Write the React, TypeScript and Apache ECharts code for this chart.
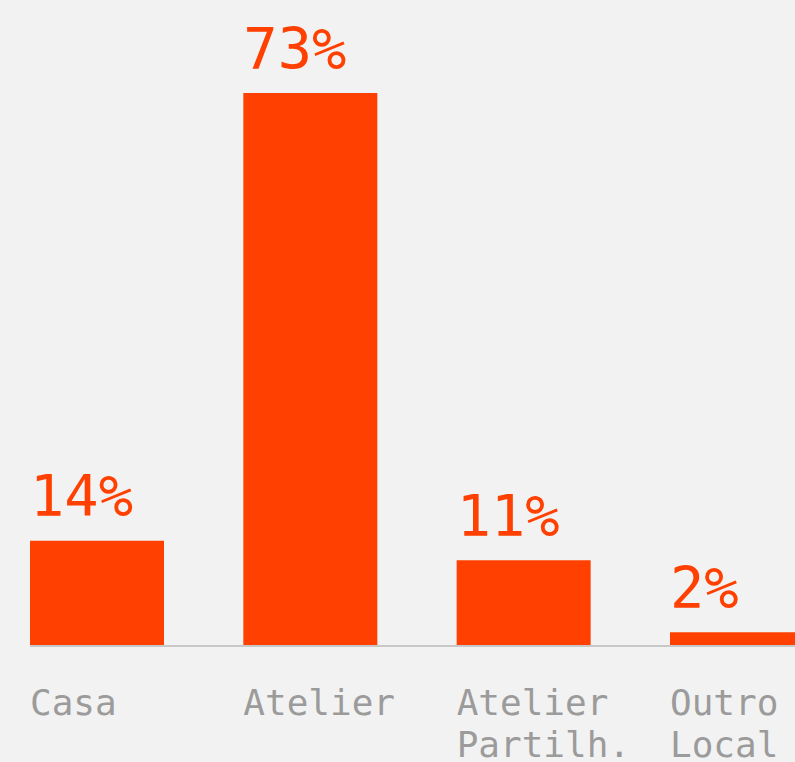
import React, { useEffect, useRef } from "react";
import * as echarts from "echarts";

const categories = ["Casa", "Atelier", "Atelier\nPartilh.", "Outro\nLocal"];
const shares = [13.8, 73.0, 11.2, 1.7];

const BAR_COLOR = "#ff4000";
const BG = "#f2f2f2";
const MONO = "'DejaVu Sans Mono', monospace";

// inner canvas is shifted left so the last bar can run past the right edge
const SHIFT = 80;
const INNER_W = 960;

export default function App() {
  const ref = useRef<HTMLDivElement>(null);
  useEffect(() => {
    document.body.style.margin = "0";
    document.body.style.background = BG;
    const chart = echarts.init(ref.current!, null, { renderer: "svg" });
    const gridTop = 93;
    const gridBottom = 117;
    const barsLeft = -9.67 + SHIFT;
    const bandW = 853.33;
    chart.setOption({
      animation: false,
      backgroundColor: BG,
      grid: [
        { left: barsLeft, width: bandW, top: gridTop, bottom: gridBottom, outerBoundsMode: "none" },
        { left: barsLeft - 67, width: bandW, top: gridTop, bottom: gridBottom, outerBoundsMode: "none" },
      ],
      xAxis: [
        {
          type: "category",
          gridIndex: 0,
          data: categories,
          axisLine: { show: false },
          axisTick: { show: false },
          axisLabel: { show: false },
        },
        {
          type: "category",
          gridIndex: 1,
          data: categories,
          axisLine: { show: false },
          axisTick: { show: false },
          axisLabel: {
            interval: 0,
            align: "left",
            verticalAlign: "top",
            margin: 36,
            color: "#9b9b9b",
            fontFamily: MONO,
            fontSize: 36,
            lineHeight: 42,
          },
        },
      ],
      yAxis: [
        { type: "value", gridIndex: 0, min: 0, max: "dataMax", show: false },
        { type: "value", gridIndex: 1, min: 0, max: 1, show: false },
      ],
      graphic: [
        {
          type: "line",
          shape: { x1: 30 + SHIFT, y1: 646, x2: INNER_W, y2: 646 },
          style: { stroke: "#c8c8c8", lineWidth: 2 },
          z: 0,
        },
      ],
      series: [
        {
          type: "bar",
          xAxisIndex: 0,
          yAxisIndex: 0,
          data: shares,
          barWidth: 134,
          itemStyle: { color: BAR_COLOR },
          z: 5,
          label: {
            show: true,
            position: [0, -16],
            align: "left",
            verticalAlign: "bottom",
            color: BAR_COLOR,
            fontFamily: MONO,
            fontSize: 57,
            formatter: (p: any) => Math.round(p.value) + "%",
          },
        },
      ],
    });
    return () => chart.dispose();
  }, []);
  return (
    <div
      style={{
        position: "fixed",
        left: 0,
        top: 0,
        width: 795,
        height: 762,
        overflow: "hidden",
        background: BG,
      }}
    >
      <div
        ref={ref}
        style={{ position: "absolute", left: -SHIFT, top: 0, width: INNER_W, height: 762 }}
      />
    </div>
  );
}
